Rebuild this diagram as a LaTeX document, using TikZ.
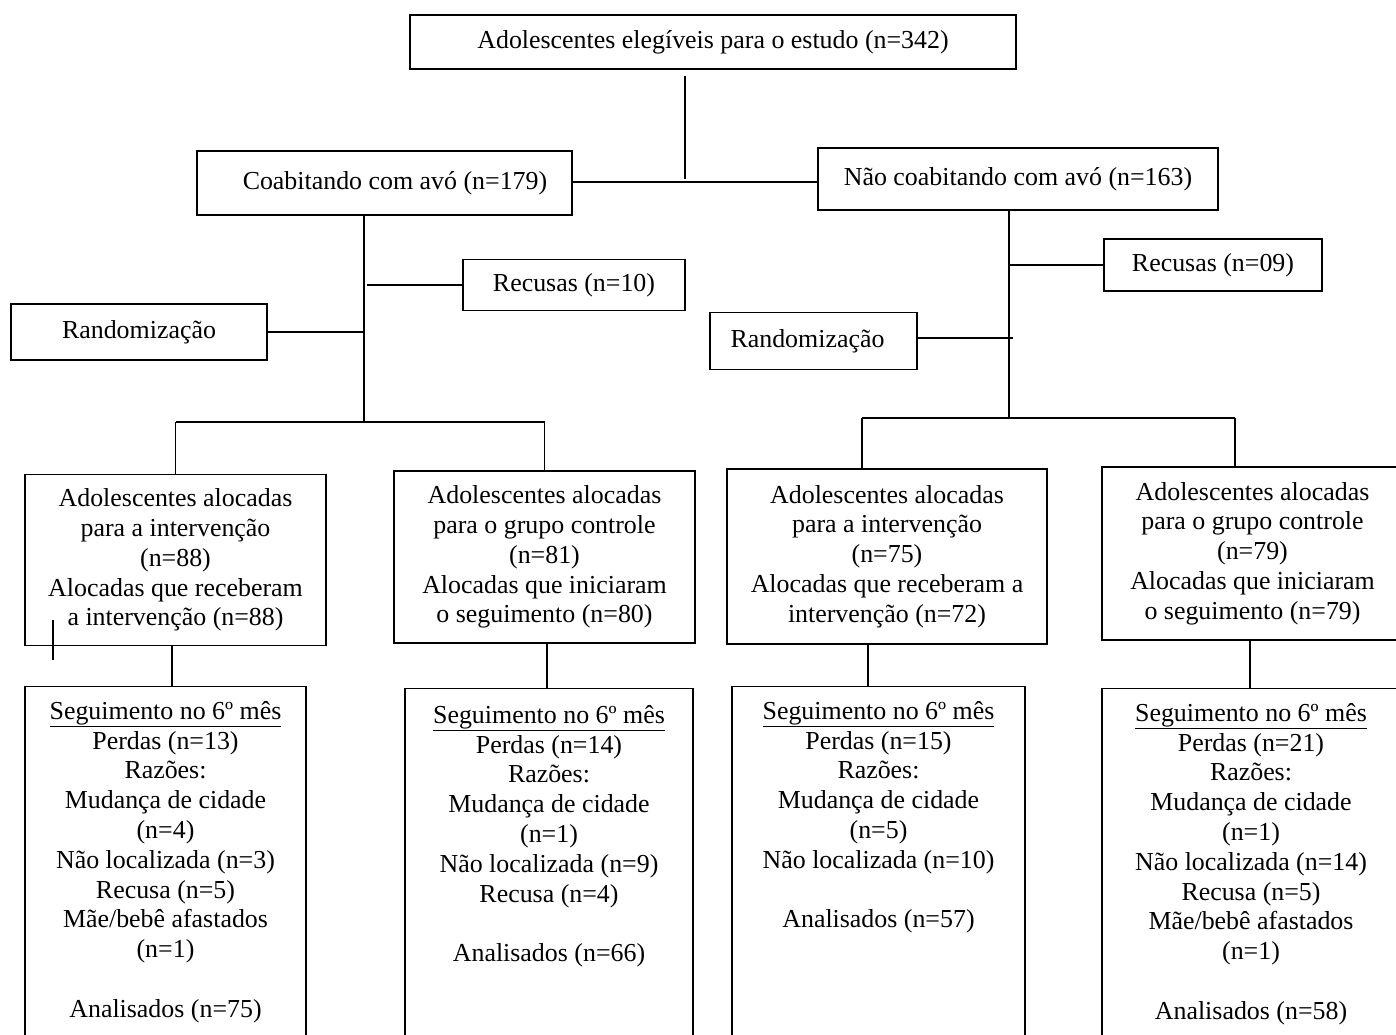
\documentclass[tikz,border=0pt]{standalone}
\usepackage{fontspec}
\setmainfont{Liberation Serif}
\begin{document}
\begin{tikzpicture}[x=1pt,y=-1pt,
  box/.style={draw, line width=1.3pt, align=center, inner sep=0pt, font=\fontsize{25.9}{29.8}\selectfont},
  frame/.style={draw, line width=1.3pt, inner sep=0pt, minimum height=420pt, anchor=north},
  txt/.style={align=center, inner sep=0pt, anchor=north, font=\fontsize{25.9}{29.8}\selectfont},
  conn/.style={line width=1.8pt}]
\useasboundingbox (0,0) rectangle (1396,1034);
\clip (0,0) rectangle (1396,1034);

% top level
\node[box, minimum width=606pt, minimum height=54pt] (top) at (713,42) {Adolescentes elegíveis para o estudo (n=342)};
\node[box, minimum width=375pt, minimum height=64pt] (coab) at (384.5,183) {\hspace*{21pt}Coabitando com avó (n=179)};
\node[box, minimum width=400pt, minimum height=62pt] (ncoab) at (1018,179) {Não coabitando com avó (n=163)};

% side boxes
\node[box, minimum width=222pt, minimum height=51pt] (recL) at (574,285) {Recusas (n=10)};
\node[box, minimum width=256pt, minimum height=56pt] (randL) at (139,332) {Randomização};
\node[box, minimum width=218pt, minimum height=52pt] (recR) at (1213,265) {Recusas (n=09)};
\node[box, minimum width=207pt, minimum height=57pt] (randR) at (813.5,341) {Randomização\hspace*{12pt}};

% allocation boxes
\node[box, minimum width=301pt, minimum height=171pt] (a1) at (175.5,560) {Adolescentes alocadas\\ para a intervenção\\ (n=88)\\ Alocadas que receberam\\ a intervenção (n=88)};
\node[box, minimum width=301pt, minimum height=172pt] (a2) at (544.5,557) {Adolescentes alocadas\\ para o grupo controle\\ (n=81)\\ Alocadas que iniciaram\\ o seguimento (n=80)};
\node[box, minimum width=320pt, minimum height=175pt] (a3) at (887,556.5) {Adolescentes alocadas\\ para a intervenção\\ (n=75)\\ Alocadas que receberam a\\ intervenção (n=72)};
\node[box, minimum width=301pt, minimum height=173pt] (a4) at (1252.5,553.5) {Adolescentes alocadas\\ para o grupo controle\\ (n=79)\\ Alocadas que iniciaram\\ o seguimento (n=79)};

% follow-up boxes (open at the bottom of the page)
\node[frame, minimum width=281pt] (b1) at (165.5,686) {};
\node[frame, minimum width=288pt] (b2) at (549,688) {};
\node[frame, minimum width=293pt] (b3) at (878.5,686) {};
\node[frame, minimum width=298pt] (b4) at (1251,688) {};

\node[txt] (t1) at ([yshift=-15pt]b1.north) {\underline{Seguimento no 6º mês}\\ Perdas (n=13)\\ Razões:\\ Mudança de cidade\\ (n=4)\\ Não localizada (n=3)\\ Recusa (n=5)\\ Mãe/bebê afastados\\ (n=1)\\[29.8pt] Analisados (n=75)};
\node[txt] (t2) at ([yshift=-17pt]b2.north) {\underline{Seguimento no 6º mês}\\ Perdas (n=14)\\ Razões:\\ Mudança de cidade\\ (n=1)\\ Não localizada (n=9)\\ Recusa (n=4)\\[29.8pt] Analisados (n=66)};
\node[txt] (t3) at ([yshift=-15pt]b3.north) {\underline{Seguimento no 6º mês}\\ Perdas (n=15)\\ Razões:\\ Mudança de cidade\\ (n=5)\\ Não localizada (n=10)\\[29.8pt] Analisados (n=57)};
\node[txt] (t4) at ([yshift=-15pt]b4.north) {\underline{Seguimento no 6º mês}\\ Perdas (n=21)\\ Razões:\\ Mudança de cidade\\ (n=1)\\ Não localizada (n=14)\\ Recusa (n=5)\\ Mãe/bebê afastados\\ (n=1)\\[29.8pt] Analisados (n=58)};

% junction coordinates
\coordinate (j0) at (685,182);
\coordinate (jl) at (364,422);
\coordinate (jr) at (1009,418);

% connectors
\draw[conn] ([yshift=-6pt]top.south -| j0) -- ([yshift=3pt]j0);
\draw[conn] (coab.east |- j0) -- (ncoab.west |- j0);

\draw[conn] (coab.south -| jl) -- (jl);
\draw[conn] (randL.east) -- (randL.east -| jl);
\draw[conn] (recL.west) -- ([xshift=3pt]recL.west -| jl);
\draw[conn] (a1.north |- jl) -- (a2.north |- jl);
\draw[conn] (a1.north |- jl) -- (a1.north);
\draw[conn] (a2.north |- jl) -- (a2.north);

\draw[conn] (ncoab.south -| jr) -- (jr);
\draw[conn] (recR.west) -- (recR.west -| jr);
\draw[conn] ([yshift=3pt]randR.east) -- ([yshift=3pt,xshift=4pt]randR.east -| jr);
\coordinate (jr1) at (862,418);
\coordinate (jr2) at (1235,418);
\draw[conn] (jr1) -- (jr2);
\draw[conn] (jr1) -- (jr1 |- a3.north);
\draw[conn] (jr2) -- (jr2 |- a4.north);

\draw[conn] ([xshift=-3.5pt]a1.south) -- ([xshift=-3.5pt]a1.south |- b1.north);
\draw[conn] ([xshift=2.5pt]a2.south) -- ([xshift=2.5pt]a2.south |- b2.north);
\draw[conn] ([xshift=-19pt]a3.south) -- ([xshift=-19pt]a3.south |- b3.north);
\draw[conn] ([xshift=-2.5pt]a4.south) -- ([xshift=-2.5pt]a4.south |- b4.north);

% stray mark inside the first allocation box
\coordinate (s1) at (53,620);
\coordinate (s2) at (53,660);
\draw[conn] (s1) -- (s2);
\end{tikzpicture}
\end{document}
